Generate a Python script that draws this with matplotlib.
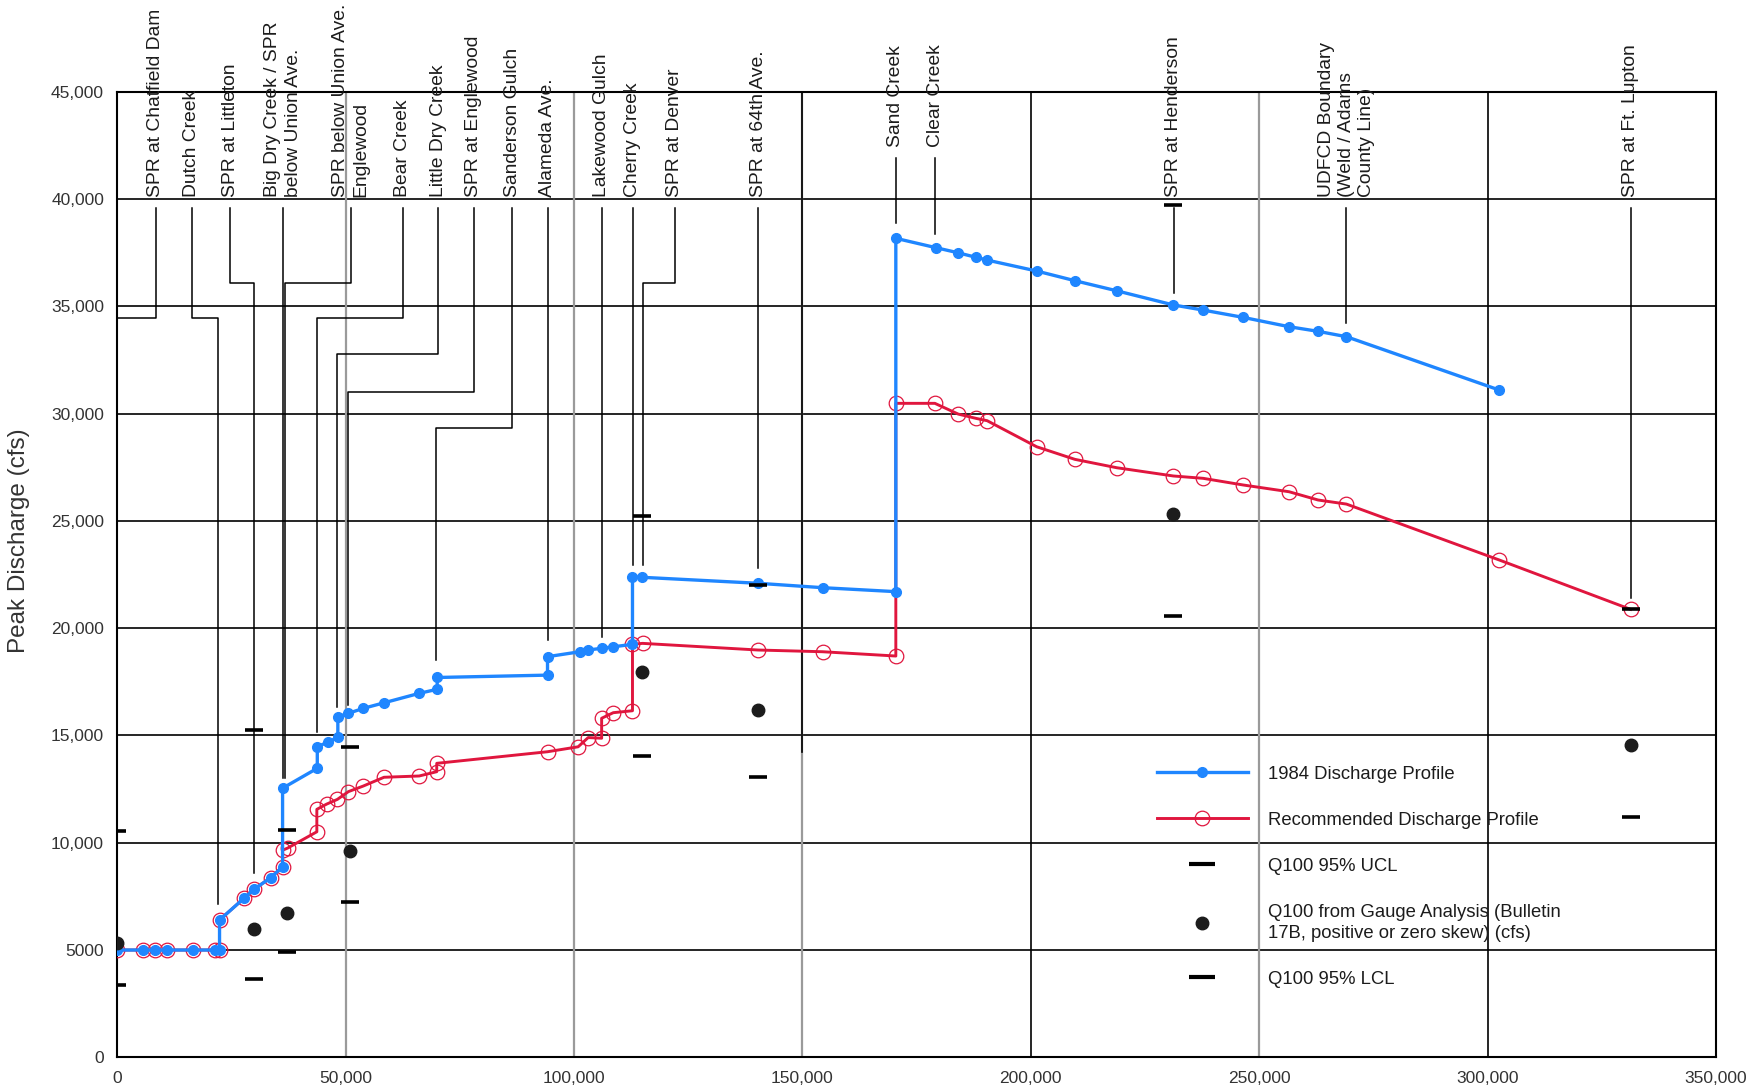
import matplotlib
matplotlib.use('Agg')
import matplotlib.pyplot as plt
from matplotlib.lines import Line2D

plt.rcParams['font.family'] = ['Liberation Sans', 'DejaVu Sans']

# 1984 discharge profile (river station ft, peak discharge cfs)
x_1984 = [0, 5700, 8250, 10800, 16650, 21400, 22400, 22400, 27750, 29950, 33600, 36200,
          36200, 43800, 43800, 46200, 48300, 48300, 50600, 53850, 58400, 66100, 70050,
          70050, 94200, 94200, 101300, 103100, 106050, 108600, 112800, 112800, 114800,
          140300, 154400, 170450, 170450, 179200, 184100, 188000, 190450, 201300, 209650,
          218800, 231200, 237750, 246500, 256550, 262900, 269100, 302550]
q_1984 = [5000, 5000, 5000, 5000, 5000, 5000, 5000, 6400, 7410, 7830, 8370, 8880,
          12540, 13470, 14470, 14700, 14910, 15870, 16030, 16260, 16520, 16960, 17150,
          17700, 17810, 18670, 18900, 18980, 19060, 19130, 19245, 22400, 22370,
          22090, 21885, 21700, 38165, 37730, 37490, 37280, 37150, 36640, 36190,
          35720, 35060, 34820, 34480, 34045, 33830, 33580, 31095]

# recommended discharge profile
x_rec = [0, 5700, 8250, 10800, 16650, 21400, 22400, 22400, 27750, 29950, 33600, 36200,
         36200, 37300, 43700, 43700, 45850, 48200, 50600, 53850, 58400, 66100, 69950,
         69950, 94200, 100900, 103100, 106050, 106050, 108600, 112800, 112800, 115000,
         140300, 154400, 170450, 170450, 179000, 184100, 188000, 190450, 201300, 209650,
         218800, 231200, 237750, 246500, 256550, 262900, 269100, 302550, 331300]
q_rec = [5000, 5000, 5000, 5000, 5000, 5000, 5000, 6400, 7410, 7830, 8370, 8880,
         9650, 9750, 10510, 11555, 11800, 12020, 12380, 12640, 13050, 13110, 13310,
         13700, 14240, 14470, 14900, 14870, 15800, 16060, 16150, 19245, 19290,
         18980, 18900, 18700, 30475, 30475, 29975, 29775, 29665, 28450, 27865,
         27475, 27090, 26980, 26670, 26355, 25970, 25780, 23175, 20875]

# gauge analysis (Bulletin 17B) with 95% confidence limits
x_gauge = [0, 29900, 37100, 51000, 114800, 140300, 231200, 331300]
q_gauge = [5310, 5970, 6710, 9630, 17970, 16180, 25320, 14550]
q_ucl = [10550, 15250, 10590, 14470, 25210, 22000, 39700, 20900]
q_lcl = [3370, 3640, 4920, 7250, 14050, 13075, 20570, 11190]

# station labels along the top and their leader lines
stations = ['SPR at Chatfield Dam', 'Dutch Creek', 'SPR at Littleton',
            'Big Dry Creek / SPR\nbelow Union Ave.', 'SPR below Union Ave.\nEnglewood',
            'Bear Creek', 'Little Dry Creek', 'SPR at Englewood', 'Sanderson Gulch',
            'Alameda Ave.', 'Lakewood Gulch', 'Cherry Creek', 'SPR at Denver',
            'SPR at 64th Ave.', 'Sand Creek', 'Clear Creek', 'SPR at Henderson',
            'UDFCD Boundary\n(Weld / Adams\nCounty Line)', 'SPR at Ft. Lupton']
label_x = [8400, 16300, 24700, 36270, 51100, 62500, 70270, 78100, 86470, 94220,
           106040, 112900, 122100, 140330, 170400, 179050, 231300, 269100, 331300]
point_x = [0, 22100, 30000, 36270, 36700, 43800, 48160, 50450, 69770, 94220,
           106040, 112900, 115000, 140330, 170400, 179050, 231300, 269100, 331300]
elbow_y = [34450, 34450, 36100, None, 36100, 34450, 32760, 30990, 29310, None,
           None, None, 36090, None, None, None, None, None, None]
end_y = [5000, 7150, 8600, 13000, 13000, 15170, 16340, 16420, 18510, 19450,
         19600, 22950, 22950, 22800, 38860, 38350, 35630, 34200, 21390]
raised = ['Sand Creek', 'Clear Creek']

blue = '#1f86ff'
red = '#e0163e'
ink = '#1c1c1c'

fig = plt.figure(figsize=(17.6, 10.87), dpi=100)
ax = fig.add_axes([0.0666, 0.0273, 0.9084, 0.8884])
ax.set_xlim(0, 350000)
ax.set_ylim(0, 45000)

# grid
for y in range(5000, 45000, 5000):
    ax.axhline(y, color='black', lw=1.2, zorder=0.5)
for x in [50000, 100000, 150000, 250000]:
    ax.axvline(x, color='#9a9a9a', lw=1.6, zorder=0.5)
for x in [200000, 300000]:
    ax.axvline(x, color='black', lw=1.2, zorder=0.5)
ax.plot([150000, 150000], [14240, 45000], color='black', lw=1.2, zorder=0.6)

# leader lines and station names
for name, lx, px, ey, bot in zip(stations, label_x, point_x, elbow_y, end_y):
    top = 41890 if name in raised else 39600
    base = 42430 if name in raised else 40100
    if ey is None:
        xs, ys = [lx, lx], [top, bot]
    else:
        xs, ys = [lx, lx, px, px], [top, ey, ey, bot]
    ax.plot(xs, ys, color='black', lw=1.1, zorder=1, clip_on=False)
    ax.text(lx, base, name, rotation=90, ha='center', va='bottom',
            multialignment='left', fontsize=13.9, color=ink, clip_on=False,
            linespacing=1.25)

# profiles
ax.plot(x_rec, q_rec, color=red, lw=2.1, marker='o', ms=10.5, mfc='none',
        mec=red, mew=0.9, zorder=3)
ax.plot(x_1984, q_1984, color=blue, lw=2.4, marker='o', ms=7, zorder=4)

# gauge results
ax.plot(x_gauge, q_ucl, ls='none', marker='_', ms=13, mew=2.6, color='black', zorder=5)
ax.plot(x_gauge, q_lcl, ls='none', marker='_', ms=13, mew=2.6, color='black', zorder=5)
ax.plot(x_gauge, q_gauge, ls='none', marker='o', ms=9, color=ink, zorder=5)

# axes styling
for sp in ax.spines.values():
    sp.set_linewidth(1.5)
    sp.set_color('black')
ax.set_xticks(range(0, 350001, 50000))
ax.set_xticklabels(['0'] + [f'{v:,}' for v in range(50000, 350001, 50000)])
ax.set_yticks(range(0, 45001, 5000))
ax.set_yticklabels(['0', '5000'] + [f'{v:,}' for v in range(10000, 45001, 5000)])
ax.tick_params(length=0, pad=9.5, labelsize=12.5, labelcolor='#333333')
fig.text(19 / 1760, 1 - 541 / 1087, 'Peak Discharge (cfs)', rotation=90,
         ha='center', va='center', fontsize=17.5, color='#333333')

handles = [
    Line2D([], [], color=blue, lw=2.4, marker='o', ms=7),
    Line2D([], [], color=red, lw=2.1, marker='o', ms=10.5, mfc='none', mew=0.9),
    Line2D([], [], ls='none', marker='_', ms=19, mew=3, color='black'),
    Line2D([], [], ls='none', marker='o', ms=9, color=ink),
    Line2D([], [], ls='none', marker='_', ms=19, mew=3, color='black'),
]
labels = ['1984 Discharge Profile', 'Recommended Discharge Profile', 'Q100 95% UCL',
          'Q100 from Gauge Analysis (Bulletin\n17B, positive or zero skew) (cfs)',
          'Q100 95% LCL']
leg = ax.legend(handles, labels, loc='upper left', bbox_to_anchor=(0.6504, 0.3018),
                frameon=False, borderpad=0, borderaxespad=0, handlelength=4.9,
                handletextpad=1.08, labelspacing=1.57, fontsize=13.3)
for t in leg.get_texts():
    t.set_color(ink)
    t.set_linespacing(1.3)
leg.set_zorder(6)

fig.savefig('out.png', dpi=100)
